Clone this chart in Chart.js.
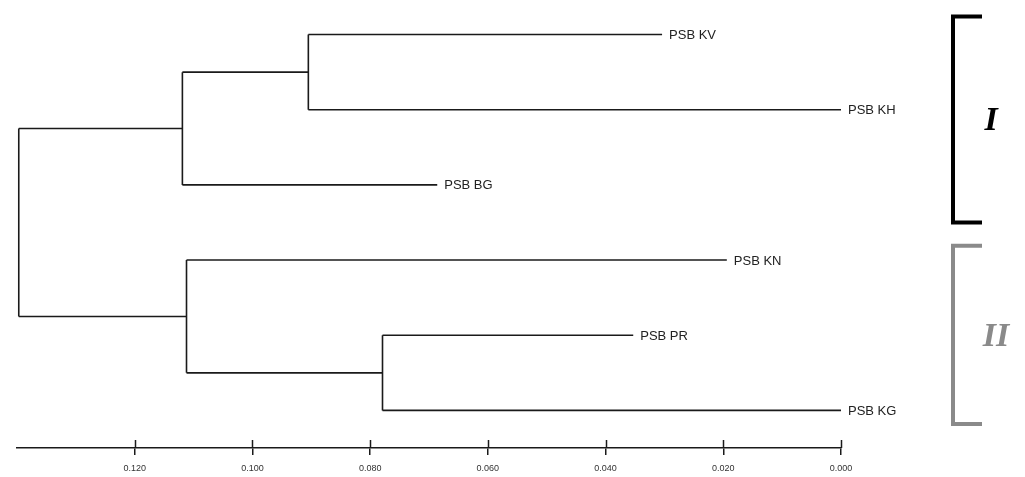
<!DOCTYPE html>
<html>
<head>
<meta charset="utf-8">
<script src="https://cdn.jsdelivr.net/npm/chart.js@4/dist/chart.umd.min.js"></script>
<style>
  html, body { margin: 0; padding: 0; background: #ffffff; }
  #wrap { width: 1025px; height: 477px; position: relative; }
</style>
</head>
<body>
<div id="wrap"><canvas id="c" width="1025" height="477"></canvas></div>
<script>
// ---- Data ----
const leafNames = ['PSB KV', 'PSB KH', 'PSB BG', 'PSB KN', 'PSB PR', 'PSB KG'];
const leafTips = [0.0304, 0.0000, 0.0686, 0.0194, 0.0353, 0.0000];

const nodeNames = ['KV-KH', 'I', 'PR-KG', 'II', 'root'];
const nodeHeights = [0.0905, 0.1119, 0.0779, 0.1112, 0.1397];
const nodeChildren = [
  ['PSB KV', 'PSB KH'],
  ['KV-KH', 'PSB BG'],
  ['PSB PR', 'PSB KG'],
  ['PSB KN', 'PR-KG'],
  ['I', 'II']
];

const tickValues = [0.12, 0.10, 0.08, 0.06, 0.04, 0.02, 0.00];
const tickLabels = ['0.120', '0.100', '0.080', '0.060', '0.040', '0.020', '0.000'];

const groupNames = ['I', 'II'];
const groupLeaves = [['PSB KV', 'PSB KH', 'PSB BG'], ['PSB KN', 'PSB PR', 'PSB KG']];
const groupColors = ['#000000', '#8a8a8a'];

// ---- Build positions from the tree ----
const pos = {};
leafNames.forEach((n, i) => { pos[n] = { x: leafTips[i], y: i }; });
nodeNames.forEach((n, i) => {
  const ys = nodeChildren[i].map(c => pos[c].y);
  pos[n] = { x: nodeHeights[i], y: (ys[0] + ys[1]) / 2 };
});

const segs = [];
nodeNames.forEach((n, i) => {
  const p = pos[n];
  const kids = nodeChildren[i].map(c => pos[c]);
  segs.push([{ x: p.x, y: kids[0].y }, { x: p.x, y: kids[1].y }]);
  kids.forEach(k => segs.push([{ x: p.x, y: k.y }, { x: k.x, y: k.y }]));
});

const datasets = segs.map(s => ({
  data: s,
  showLine: true,
  borderColor: '#1a1a1a',
  borderWidth: 1.6,
  pointRadius: 0,
  pointHoverRadius: 0,
  fill: false,
  clip: false
}));

const overlay = {
  id: 'overlay',
  afterDraw(chart) {
    const ctx = chart.ctx;
    const xs = chart.scales.x, ys = chart.scales.y;
    ctx.save();
    // leaf labels
    ctx.font = '13px "Liberation Sans", Arial, sans-serif';
    ctx.fillStyle = '#222222';
    ctx.textBaseline = 'middle';
    ctx.textAlign = 'left';
    leafNames.forEach((n, i) => {
      ctx.fillText(n, xs.getPixelForValue(leafTips[i]) + 7, ys.getPixelForValue(i) + 1);
    });
    // upper part of axis ticks
    const axY = chart.chartArea.bottom;
    ctx.strokeStyle = '#1a1a1a';
    ctx.lineWidth = 1.5;
    tickValues.forEach(v => {
      const px = Math.round(xs.getPixelForValue(v)) + 0.5;
      ctx.beginPath();
      ctx.moveTo(px, axY - 8);
      ctx.lineTo(px, axY);
      ctx.stroke();
    });
    // group brackets
    const bx = 953, bw = 29;
    groupNames.forEach((g, gi) => {
      const idx = groupLeaves[gi].map(n => leafNames.indexOf(n));
      const y0 = ys.getPixelForValue(Math.min(...idx) - (gi === 0 ? 0.24 : 0.19));
      const y1 = ys.getPixelForValue(Math.max(...idx) + (gi === 0 ? 0.5 : 0.18));
      ctx.strokeStyle = groupColors[gi];
      ctx.lineWidth = 4;
      ctx.lineJoin = 'miter';
      ctx.beginPath();
      ctx.moveTo(bx + bw, y0);
      ctx.lineTo(bx, y0);
      ctx.lineTo(bx, y1);
      ctx.lineTo(bx + bw, y1);
      ctx.stroke();
      ctx.fillStyle = groupColors[gi];
      ctx.font = 'italic bold 34px "Liberation Serif", "Times New Roman", serif';
      ctx.textAlign = 'center';
      ctx.textBaseline = 'middle';
      ctx.fillText(g, gi === 0 ? 991 : 996, (y0 + y1) / 2 + 2);
    });
    ctx.restore();
  }
};

new Chart(document.getElementById('c'), {
  type: 'scatter',
  data: { datasets },
  plugins: [overlay],
  options: {
    responsive: false,
    animation: false,
    events: [],
    layout: { padding: { left: 17, right: 184, top: 12, bottom: 4 } },
    plugins: { legend: { display: false }, tooltip: { enabled: false } },
    scales: {
      x: {
        type: 'linear',
        reverse: true,
        min: 0,
        max: 0.14,
        afterBuildTicks(scale) { scale.ticks = tickValues.map(v => ({ value: v })); },
        afterFit(scale) { scale.height = 25; },
        ticks: {
          callback(v) { const i = tickValues.findIndex(t => Math.abs(t - v) < 1e-9); return i >= 0 ? tickLabels[i] : ''; },
          font: { family: '"Liberation Sans", Arial, sans-serif', size: 9 },
          color: '#333333',
          padding: 8,
          maxRotation: 0,
          autoSkip: false
        },
        grid: { drawOnChartArea: false, drawTicks: true, tickLength: 7, color: '#1a1a1a', lineWidth: 1.5 },
        border: { display: true, color: '#1a1a1a', width: 1.5 }
      },
      y: {
        type: 'linear',
        reverse: true,
        min: -0.3,
        max: 5.5,
        display: false
      }
    }
  }
});
</script>
</body>
</html>
